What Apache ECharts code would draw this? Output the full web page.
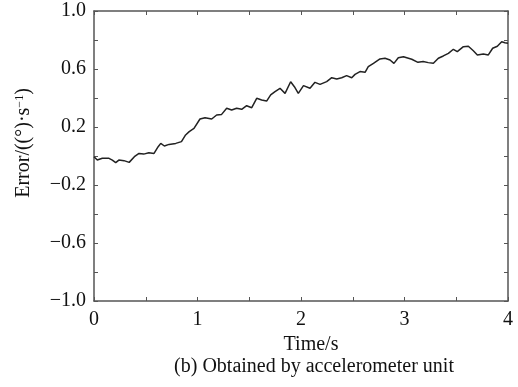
<!DOCTYPE html>
<html><head><meta charset="utf-8">
<script src="https://cdn.jsdelivr.net/npm/echarts@6/dist/echarts.min.js"></script>
<style>html,body{margin:0;padding:0;background:#fff}#c{width:518px;height:387px}</style>
</head><body><div id="c"></div>
<script>
var times = [0.000,0.032,0.080,0.145,0.177,0.210,0.240,0.290,0.340,0.390,0.435,0.480,0.530,0.580,0.620,0.645,0.680,0.725,0.790,0.845,
0.885,0.920,0.966,1.024,1.073,1.137,1.185,1.233,1.282,1.330,1.378,1.427,1.475,1.524,1.572,1.620,1.668,1.707,1.749,1.797,
1.846,1.900,1.936,1.974,2.024,2.087,2.135,2.184,2.248,2.297,2.345,2.393,2.441,2.490,2.522,2.570,2.619,2.650,2.700,2.763,
2.812,2.860,2.898,2.940,2.990,3.070,3.130,3.180,3.230,3.279,3.327,3.375,3.424,3.472,3.510,3.569,3.617,3.665,3.704,3.762,
3.810,3.852,3.897,3.939,3.970,4.000];
var errors = [-0.005,-0.028,-0.016,-0.016,-0.028,-0.046,-0.028,-0.032,-0.044,-0.005,0.018,0.013,0.023,0.018,0.064,0.087,0.069,0.080,0.087,0.099,
0.145,0.168,0.190,0.255,0.264,0.255,0.283,0.287,0.329,0.317,0.329,0.322,0.347,0.333,0.398,0.386,0.379,0.421,0.444,0.467,
0.432,0.512,0.478,0.432,0.485,0.467,0.508,0.494,0.513,0.540,0.531,0.540,0.554,0.540,0.563,0.582,0.577,0.616,0.639,0.669,
0.674,0.662,0.639,0.678,0.685,0.667,0.646,0.651,0.644,0.639,0.674,0.690,0.708,0.736,0.720,0.754,0.757,0.726,0.697,0.704,
0.697,0.743,0.757,0.788,0.781,0.778];
var xLabels = ['0','1','2','3','4'];
var yLabels = ['−1.0','−0.6','−0.2','0.2','0.6','1.0'];

var data = times.map(function(t,i){return [t, errors[i]];});
var font = 'Liberation Serif';
var axisColor = '#555';
var txt = '#111';
var chart = echarts.init(document.getElementById('c'));
function frameAxis(extra){
  return Object.assign({
    axisLine:{show:true,onZero:false,lineStyle:{color:axisColor,width:1.5}},
    axisTick:{show:true,inside:true,length:4,lineStyle:{color:axisColor}},
    splitLine:{show:false}
  }, extra);
}
chart.setOption({
  animation:false,
  backgroundColor:'#fff',
  grid:{left:94,right:10,top:11,bottom:86,show:false},
  xAxis:[frameAxis({
    type:'value',min:0,max:4,interval:0.5,position:'bottom',
    name:'Time/s',nameLocation:'middle',nameGap:32,
    nameTextStyle:{fontFamily:font,fontSize:20,color:txt,padding:[0,0,0,20]},
    axisLabel:{fontFamily:font,fontSize:20,color:txt,margin:9,
      formatter:function(v){var i=Math.round(v);return Math.abs(v-i)<1e-6?xLabels[i]:'';}}
  }),frameAxis({
    type:'value',min:0,max:4,interval:0.5,position:'top',
    axisLabel:{show:false}
  })],
  yAxis:[frameAxis({
    type:'value',min:-1,max:1,interval:0.2,position:'left',
    axisLabel:{fontFamily:font,fontSize:20,color:txt,margin:8,
      formatter:function(v){var k=Math.round((v+1)/0.2);return k%2===0?yLabels[k/2]:'';}}
  }),frameAxis({
    type:'value',min:-1,max:1,interval:0.2,position:'right',
    axisLabel:{show:false}
  })],
  graphic:[
    {type:'text',x:314,y:367,
      style:{text:'(b) Obtained by accelerometer unit',font:'20px "Liberation Serif"',fill:txt,align:'center',verticalAlign:'middle'}},
    {type:'text',x:24,y:143,rotation:Math.PI/2,
      style:{text:'Error/((°)·s{sup|−1})',font:'20px "Liberation Serif"',fill:txt,align:'center',verticalAlign:'middle',
        rich:{sup:{font:'12px "Liberation Serif"',fill:txt,padding:[0,0,9,0]}}}}
  ],
  series:[{type:'line',data:data,showSymbol:false,xAxisIndex:0,yAxisIndex:0,
    lineStyle:{color:'#222',width:1.5}}]
});
</script></body></html>
